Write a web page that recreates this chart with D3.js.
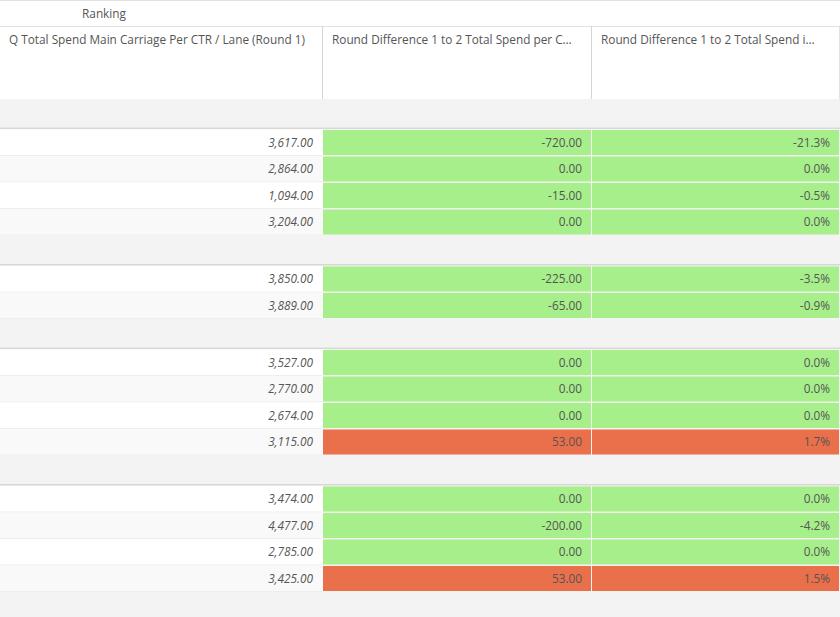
<!doctype html>
<html>
<head>
	<meta charset="UTF-8">
	<title>Ranking table</title>
	<script src="https://d3js.org/d3.v7.min.js"></script>
	<style>
		body { margin: 0; background: #fff; }
		text { font-family: "Open Sans", sans-serif; font-size: 11.8px; fill: #555; }
	</style>
</head>
<body>
	<script>
		// table data, one entry per lane row
		var title = "Ranking";
		var columnTitles = ["Q Total Spend Main Carriage Per CTR / Lane (Round 1)",
			"Round Difference 1 to 2 Total Spend per C\u2026",
			"Round Difference 1 to 2 Total Spend i\u2026"];
		var rowGroup = [0, 0, 0, 0, 1, 1, 2, 2, 2, 2, 3, 3, 3, 3];
		var spendRound1 = [3617, 2864, 1094, 3204, 3850, 3889, 3527, 2770, 2674, 3115, 3474, 4477, 2785, 3425];
		var spendDiff = [-720, 0, -15, 0, -225, -65, 0, 0, 0, 53, 0, -200, 0, 53];
		var spendDiffPct = [-21.3, 0, -0.5, 0, -3.5, -0.9, 0, 0, 0, 1.7, 0, -4.2, 0, 1.5];

		var W = 840, H = 617;
		var headerTop = 26, headerBottom = 99;
		var rowH = 26.5, groupH = 30.5;

		// columns: left edges
		var colX = d3.scaleOrdinal().domain([0, 1, 2, 3]).range([0, 323, 592, 840]);

		// build layout list: group separator rows and data rows
		var layout = [];
		var offset = 0;
		rowGroup.forEach(function(g, i) {
			if (i === 0 || rowGroup[i - 1] !== g) {
				layout.push({type: "group", y0: offset, h: groupH});
				offset += groupH;
			}
			layout.push({type: "row", y0: offset, h: rowH, i: i});
			offset += rowH;
		});
		var y = d3.scaleLinear().domain([0, 1]).range([headerBottom, headerBottom + 1]);

		// plain hyphen for negatives
		var locale = d3.formatLocale({decimal: ".", thousands: ",", grouping: [3], currency: ["", ""], minus: "-"});
		var fmtNum = locale.format(",.2f");
		var fmtPct = function(v) { return locale.format(".1f")(v) + "%"; };
		var cellColor = function(v) { return v > 0 ? "#e9704a" : "#a6ef8b"; };

		var svg = d3.select("body").append("svg")
			.attr("width", W)
			.attr("height", H);

		// background below header
		svg.append("rect")
			.attr("x", 0).attr("y", headerBottom)
			.attr("width", W).attr("height", H - headerBottom)
			.attr("fill", "#f3f3f3");

		// top border + title
		svg.append("line").attr("x1", 0).attr("x2", W).attr("y1", 0.5).attr("y2", 0.5)
			.attr("stroke", "#e2e2e2");
		svg.append("text")
			.attr("x", 104).attr("y", 18)
			.attr("text-anchor", "middle")
			.text(title);
		svg.append("line").attr("x1", 0).attr("x2", W).attr("y1", headerTop + 0.5).attr("y2", headerTop + 0.5)
			.attr("stroke", "#e2e2e2");

		// column headers
		columnTitles.forEach(function(t, c) {
			svg.append("text")
				.attr("x", colX(c) + 9)
				.attr("y", headerTop + 18)
				.text(t);
			if (c > 0) {
				svg.append("line")
					.attr("x1", colX(c) - 0.5).attr("x2", colX(c) - 0.5)
					.attr("y1", headerTop).attr("y2", headerBottom)
					.attr("stroke", "#d4d4d4");
			}
		});
		svg.append("line").attr("x1", W - 0.5).attr("x2", W - 0.5)
			.attr("y1", headerTop).attr("y2", headerBottom).attr("stroke", "#e2e2e2");
		svg.append("line").attr("x1", 0).attr("x2", W).attr("y1", headerBottom + 0.5).attr("y2", headerBottom + 0.5)
			.attr("stroke", "#e6e6e6");

		// group separator rows
		layout.filter(function(d) { return d.type === "group"; }).forEach(function(d) {
			svg.append("rect")
				.attr("x", 0).attr("y", y(d.y0))
				.attr("width", W).attr("height", d.h)
				.attr("fill", "#f3f3f3");
			svg.append("rect")
				.attr("x", 0).attr("y", y(d.y0 + d.h) - 2)
				.attr("width", W).attr("height", 1.5)
				.attr("fill", "#d9d9d4");
		});

		// data rows
		var rows = layout.filter(function(d) { return d.type === "row"; });
		rows.forEach(function(d, k) {
			var i = d.i;
			var top = y(d.y0), bottom = y(d.y0 + d.h);
			var n = rows.filter(function(r, j) { return j <= k && rowGroup[r.i] === rowGroup[i]; }).length;
			svg.append("rect")
				.attr("x", 0).attr("y", top)
				.attr("width", colX(1)).attr("height", bottom - top)
				.attr("fill", n % 2 === 1 ? "#ffffff" : "#f9f9f9");
			svg.append("line")
				.attr("x1", 0).attr("x2", colX(1))
				.attr("y1", bottom - 0.5).attr("y2", bottom - 0.5)
				.attr("stroke", "#eeeeee");
			svg.append("text")
				.attr("x", colX(1) - 10)
				.attr("y", (top + bottom) / 2 + 4)
				.attr("text-anchor", "end")
				.style("font-style", "italic")
				.text(fmtNum(spendRound1[i]));

			// coloured difference cells
			[[spendDiff[i], fmtNum(spendDiff[i])], [spendDiffPct[i], fmtPct(spendDiffPct[i])]].forEach(function(v, c) {
				var x0 = colX(c + 1), x1 = colX(c + 2);
				svg.append("rect")
					.attr("x", x0).attr("y", top + 0.5)
					.attr("width", x1 - x0 - 1).attr("height", bottom - top - 1.5)
					.attr("fill", cellColor(v[0]));
				svg.append("text")
					.attr("x", x1 - 10)
					.attr("y", (top + bottom) / 2 + 4)
					.attr("text-anchor", "end")
					.text(v[1]);
			});
		});
	</script>
</body>
</html>
